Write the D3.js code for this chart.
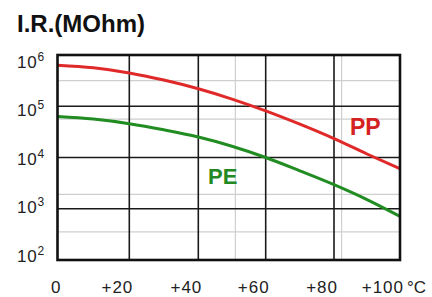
<!DOCTYPE html>
<html>
<head>
<meta charset="utf-8">
<script src="https://cdn.jsdelivr.net/npm/d3@7"></script>
<style>
    body { margin: 0; background: #fff; }
    svg { display: block; font-family: "Liberation Sans", Arial, sans-serif; }
</style>
</head>
<body>
<svg width="432" height="297"></svg>
<script>
// Insulation resistance vs temperature, PP and PE film

const temps = [0, 10, 20, 30, 40, 50, 60, 70, 80, 90, 100];
const ppValues = [631000, 562000, 447000, 324000, 219000, 138000, 81300, 44700, 23400, 11700, 6030];
const peValues = [63100, 56200, 45700, 34700, 25100, 16600, 10000, 5500, 2950, 1510, 710];

const xTicks = [0, 20, 40, 60, 80, 100];
const xTickLabels = ["0", "+20", "+40", "+60", "+80", "+100"];
const xMinor = [51, 82.3];
const yTicks = [1e2, 1e3, 1e4, 1e5, 1e6];
const yExponents = ["2", "3", "4", "5", "6"];
const yMinor = [316000, 56000, 1900, 355];

let svg = d3.select("svg");

// the scanned grid is not quite even, so the x scale is piecewise
let x = d3.scaleLinear()
    .domain(xTicks)
    .range([57.5, 129.3, 198.3, 265.7, 334, 400]);
let y = d3.scaleLog()
    .domain([1e2, 1e6])
    .range([260, 55]);
// tick labels sit on a slightly tighter spacing than the grid
let yLab = d3.scaleLog()
    .domain(y.domain())
    .range([261.5, 68]);

let g = svg.append("g");

// light grid lines
g.selectAll(".vminor")
    .data(xMinor)
    .enter().append("line")
    .attr("x1", d => x(d)).attr("x2", d => x(d))
    .attr("y1", y(1e6)).attr("y2", y(1e2))
    .attr("stroke", "#cfcfcf").attr("stroke-width", 1.2);
g.selectAll(".hminor")
    .data(yMinor)
    .enter().append("line")
    .attr("x1", x(0)).attr("x2", x(100))
    .attr("y1", d => y(d)).attr("y2", d => y(d))
    .attr("stroke", "#cfcfcf").attr("stroke-width", 1.2);

// main grid
g.selectAll(".vmajor")
    .data(xTicks.slice(1, -1))
    .enter().append("line")
    .attr("x1", d => x(d)).attr("x2", d => x(d))
    .attr("y1", y(1e6)).attr("y2", y(1e2))
    .attr("stroke", "#1a1a1a").attr("stroke-width", 1.6);
g.selectAll(".hmajor")
    .data(yTicks.slice(1, -1))
    .enter().append("line")
    .attr("x1", x(0)).attr("x2", x(100))
    .attr("y1", d => y(d)).attr("y2", d => y(d))
    .attr("stroke", "#1a1a1a").attr("stroke-width", 1.6);

// curves
const line = d3.line()
    .x((d, i) => x(temps[i]))
    .y(d => y(d))
    .curve(d3.curveMonotoneX);

g.append("path")
    .datum(ppValues)
    .attr("d", line)
    .attr("fill", "none")
    .attr("stroke", "#e02a2a")
    .attr("stroke-width", 3);
g.append("path")
    .datum(peValues)
    .attr("d", line)
    .attr("fill", "none")
    .attr("stroke", "#218c21")
    .attr("stroke-width", 3);

// frame
g.append("rect")
    .attr("x", x(0)).attr("y", y(1e6))
    .attr("width", x(100) - x(0))
    .attr("height", y(1e2) - y(1e6))
    .attr("fill", "none")
    .attr("stroke", "#111")
    .attr("stroke-width", 2.6);

// y tick labels 10^n
let yl = svg.selectAll(".ylab")
    .data(yTicks)
    .enter().append("text")
    .attr("x", 17)
    .attr("y", d => yLab(d))
    .attr("fill", "#222")
    .attr("font-size", "17px")
    .attr("letter-spacing", "0.8px");
yl.append("tspan").text("10");
yl.append("tspan")
    .attr("dy", -7)
    .attr("font-size", "12px")
    .text((d, i) => yExponents[i]);

// x tick labels
svg.selectAll(".xlab")
    .data(xTicks)
    .enter().append("text")
    .attr("x", d => x(d) + 4)
    .attr("y", 293)
    .attr("text-anchor", "end")
    .attr("fill", "#222")
    .attr("font-size", "17px")
    .attr("letter-spacing", "1px")
    .text((d, i) => xTickLabels[i]);
svg.append("text")
    .attr("x", 407)
    .attr("y", 293)
    .attr("fill", "#222")
    .attr("font-size", "17px")
    .text("°C");

// title
svg.append("text")
    .attr("x", 17)
    .attr("y", 32)
    .attr("fill", "#111")
    .attr("font-size", "24px")
    .attr("font-weight", "bold")
    .text("I.R.(MOhm)");

// series names
svg.append("text")
    .attr("x", 350).attr("y", 135)
    .attr("fill", "#d42222")
    .attr("font-size", "23px")
    .attr("font-weight", "bold")
    .text("PP");
svg.append("text")
    .attr("x", 208).attr("y", 184)
    .attr("fill", "#238a23")
    .attr("font-size", "22px")
    .attr("font-weight", "bold")
    .text("PE");
</script>
</body>
</html>
